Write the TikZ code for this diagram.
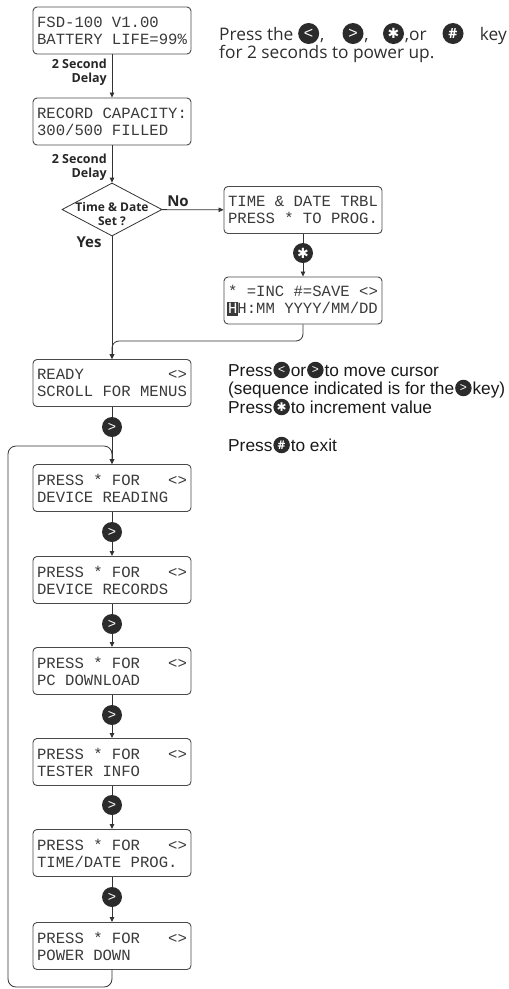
\documentclass[tikz,border=0pt]{standalone}
\usepackage{fontspec}
\setmainfont{Open Sans}
\newfontfamily\lcdfont{Liberation Mono}
\newfontfamily\arialf{Liberation Sans}
\newfontfamily\symf{DejaVu Sans}
\usetikzlibrary{arrows.meta,shapes.geometric,calc}
\definecolor{boxc}{HTML}{4A4A4A}
\definecolor{lcdc}{HTML}{3A3A3A}
\definecolor{btnc}{HTML}{2B2B2B}
\definecolor{linec}{HTML}{333333}
\newcommand\curH{{\setlength{\fboxsep}{0.7pt}\kern-0.7pt\colorbox{lcdc}{\rule[-2pt]{0pt}{12.5pt}\textcolor{white}{H}}\kern-0.7pt}}
\newcommand\lcdsetup{\lcdfont\fontsize{15.6}{17}\selectfont\spaceskip=0.6em\relax\xspaceskip=0.6em\relax}
\begin{document}
\begin{tikzpicture}[x=1pt,y=-1pt,
  lcd/.style={draw=boxc,line width=0.9pt,rounded corners=4pt,minimum width=158pt,minimum height=47pt,inner xsep=0pt,align=left,font=\lcdsetup,text=lcdc},
  btn/.style={circle,fill=btnc,text=white,inner sep=0pt,minimum size=20pt},
  tbtn/.style={btn,minimum size=21pt},
  sbtn/.style={btn,minimum size=16.5pt},
  gt/.style={font=\arialf\fontsize{14}{14}\selectfont},
  tgt/.style={font=\arialf\fontsize{16}{16}\selectfont},
  sgt/.style={font=\arialf\fontsize{12}{12}\selectfont},
  star/.style={font=\symf\fontsize{14}{14}\selectfont},
  sstar/.style={font=\symf\fontsize{12}{12}\selectfont},
  hash/.style={font=\bfseries\fontsize{14}{14}\selectfont},
  shash/.style={font=\bfseries\fontsize{12}{12}\selectfont},
  conn/.style={draw=linec,line width=0.8pt},
  arr/.style={conn,-{Triangle[length=5pt,width=4.5pt]}},
  lbl/.style={font=\bfseries\fontsize{12.5}{14.5}\selectfont,align=right,inner sep=0pt,text=black!85},
  yn/.style={font=\bfseries\fontsize{15}{15}\selectfont,inner sep=0pt,text=black!85},
  toptxt/.style={font=\fontsize{17.3}{17.3}\selectfont,inner sep=0pt,text=black!82},
  sidetxt/.style={font=\arialf\fontsize{17.3}{17.3}\selectfont,inner sep=0pt,text=black!90}
]
\useasboundingbox (0,0) rectangle (509,989);

% ---- LCD boxes ----
\node[lcd] (b1) at (112,30.5) {FSD-100 V1.00\\BATTERY LIFE=99\%};
\node[lcd] (b2) at (112,121.5) {RECORD CAPACITY:\\300/500 FILLED};
\node[draw=linec,line width=0.8pt,diamond,aspect=1.887,inner xsep=0pt,inner ysep=-9.5pt,minimum width=100pt,minimum height=53pt,font=\bfseries\fontsize{12}{13.5}\selectfont,align=center,text=black!85] (dia) at (112,209.5) {\rule{0pt}{18pt}Time \& Date\\Set ?};
\node[lcd] (trbl) at (303,210) {TIME \& DATE TRBL\\PRESS * TO PROG.};
\node[btn,star] (bstar) at (303,253) {✱};
\node[lcd] (inc) at (303,300.5) {* =INC \#=SAVE <>\\\curH H:MM YYYY/MM/DD};
\coordinate (m) at (112,341);
\node[lcd] (ready) at (112,383) {READY\ \ \ \ \ \ \ \ \ <>\\SCROLL FOR MENUS};
\node[btn,gt] (g0) at (112,427) {>};
\node[lcd] (dr) at (112,488) {PRESS * FOR\ \ \ <>\\DEVICE READING};
\node[btn,gt] (g1) at (112,532) {>};
\node[lcd] (drec) at (112,580) {PRESS * FOR\ \ \ <>\\DEVICE RECORDS};
\node[btn,gt] (g2) at (112,624) {>};
\node[lcd] (pc) at (112,671) {PRESS * FOR\ \ \ <>\\PC DOWNLOAD};
\node[btn,gt] (g3) at (112,715) {>};
\node[lcd] (ti) at (112,762) {PRESS * FOR\ \ \ <>\\TESTER INFO};
\node[btn,gt] (g4) at (112,805) {>};
\node[lcd] (td) at (112,853) {PRESS * FOR\ \ \ <>\\TIME/DATE PROG.};
\node[btn,gt] (g5) at (112,897) {>};
\node[lcd] (pd) at (112,946) {PRESS * FOR\ \ \ <>\\POWER DOWN};

% ---- connectors ----
\draw[arr] (b1) -- (b2);
\node[lbl,anchor=east] (d1) at (107,72) {2 Second\\Delay};
\draw[arr] (b2) -- (dia);
\node[lbl,anchor=east] (d2) at (107,167) {2 Second\\Delay};
\draw[arr] (dia) -- (trbl);
\node[yn] (no) at (178,201) {No};
\node[yn] (yes) at (89,242) {Yes};
\draw[conn] (trbl) -- (bstar);
\draw[arr] (bstar) -- (inc);
\draw[arr] (dia) -- (ready);
\draw[arr,rounded corners=7pt] (inc.south) |- (m) -- (ready.north);
\draw[conn] (ready) -- (g0);
\coordinate (lt) at (112,446);
\coordinate (ltl) at (8,446);
\coordinate (lbl) at (8,987);
\coordinate (lb) at (112,987);
\draw[arr] (g0) -- (dr);
\draw[conn] (dr) -- (g1); \draw[arr] (g1) -- (drec);
\draw[conn] (drec) -- (g2); \draw[arr] (g2) -- (pc);
\draw[conn] (pc) -- (g3); \draw[arr] (g3) -- (ti);
\draw[conn] (ti) -- (g4); \draw[arr] (g4) -- (td);
\draw[conn] (td) -- (g5); \draw[arr] (g5) -- (pd);
\draw[arr,rounded corners=8pt] (pd.south) -- (lb) -- (lbl) -- (ltl) -- (lt) -- (dr.north);

% ---- top instruction ----
\coordinate (L1) at (0,40);
\node[toptxt,anchor=base west] (t1) at (219,40) {Press the};
\node[tbtn,tgt,xshift=15pt,yshift=6.5pt] (ti1) at (t1.base east) {<};
\node[toptxt,anchor=base west,xshift=0.5pt] (t2) at (ti1.east |- L1) {,};
\node[tbtn,tgt] (ti2) at (353,33.5) {>};
\node[toptxt,anchor=base west,xshift=0.5pt] (t3) at (ti2.east |- L1) {,};
\node[tbtn,star] (ti3) at (393.5,33.5) {✱};
\node[toptxt,anchor=base west,xshift=0.5pt] (t4) at (ti3.east |- L1) {,or};
\node[tbtn,hash] (ti4) at (453,33.5) {\#};
\node[toptxt,anchor=base east] (t5) at (507,40) {key};
\node[toptxt,anchor=base west] (t6) at (219,58) {for 2 seconds to power up.};

% ---- side instructions ----
\coordinate (S1) at (0,376);
\coordinate (S2) at (0,394);
\coordinate (S3) at (0,413);
\coordinate (S4) at (0,451);
\node[sidetxt,anchor=base west] (s1) at (228,376) {Press};
\node[sbtn,sgt,xshift=9pt,yshift=6pt] (si1) at (s1.base east) {<};
\node[sidetxt,anchor=base west,xshift=0.5pt] (s2) at (si1.east |- S1) {or};
\node[sbtn,sgt,xshift=9pt,yshift=6pt] (si2) at (s2.base east) {>};
\node[sidetxt,anchor=base west,xshift=0.5pt] (s3) at (si2.east |- S1) {to move cursor};
\node[sidetxt,anchor=base west] (s4) at (228,394) {(sequence indicated is for the};
\node[sbtn,sgt,xshift=9pt,yshift=6pt] (si3) at (s4.base east) {>};
\node[sidetxt,anchor=base west,xshift=0.5pt] (s5) at (si3.east |- S2) {key)};
\node[sidetxt,anchor=base west] (s6) at (228,413) {Press};
\node[sbtn,sstar,xshift=9pt,yshift=6pt] (si4) at (s6.base east) {✱};
\node[sidetxt,anchor=base west,xshift=0.5pt] (s7) at (si4.east |- S3) {to increment value};
\node[sidetxt,anchor=base west] (s8) at (228,451) {Press};
\node[sbtn,shash,xshift=9pt,yshift=6pt] (si5) at (s8.base east) {\#};
\node[sidetxt,anchor=base west,xshift=0.5pt] (s9) at (si5.east |- S4) {to exit};
\end{tikzpicture}
\end{document}
